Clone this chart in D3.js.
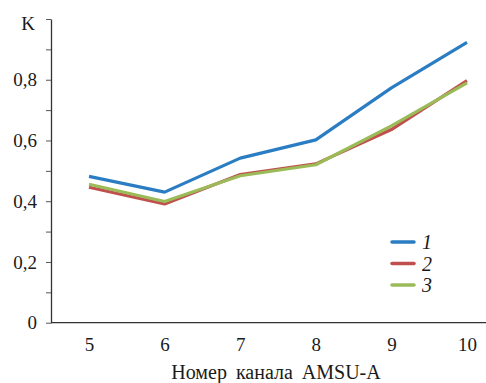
<!DOCTYPE html>
<html>
<head>
<meta charset="utf-8">
<script src="https://cdn.jsdelivr.net/npm/d3@7"></script>
<style>
  html, body { margin: 0; padding: 0; background: #fff; }
  svg text { font-family: "Liberation Serif", "Times New Roman", serif; }
</style>
</head>
<body>
<svg id="plot" width="486" height="383" font-family="Liberation Serif"></svg>
<script>
const channels = [5, 6, 7, 8, 9, 10];
const seriesNames = ["1", "2", "3"];
const series1 = [0.482, 0.430, 0.542, 0.602, 0.773, 0.923];
const series2 = [0.446, 0.391, 0.488, 0.523, 0.636, 0.797];
const series3 = [0.456, 0.399, 0.484, 0.520, 0.648, 0.790];
const yMajorTicks = [0, 0.2, 0.4, 0.6, 0.8];
const yMinorTicks = [0.1, 0.3, 0.5, 0.7, 0.9];
const colors = ["#2a7dc2", "#c0504d", "#9bbb59"];

const FONT = "Liberation Serif";
const margin = { top: 19, right: 0, bottom: 60, left: 51 };
const width = 486;

const svg = d3.select("#plot");

const x = d3.scalePoint()
  .domain(channels)
  .range([margin.left + 38, 467]);

const y = d3.scaleLinear()
  .domain([0, 1])
  .range([322.7, margin.top]);

// y axis: labelled major ticks, bare minor ticks
const yAxisG = svg.append("g")
  .attr("transform", `translate(${margin.left},0)`)
  .call(d3.axisLeft(y).tickValues(yMajorTicks.concat(yMinorTicks, [1]))
    .tickSize(5).tickPadding(9).tickSizeOuter(0)
    .tickFormat((d) => String(d).replace(".", ",")));
yAxisG.attr("font-family", FONT).attr("font-size", 19);
yAxisG.select(".domain").attr("stroke", "#333").attr("stroke-width", 1.3);
yAxisG.selectAll("line").attr("stroke", "#555");
yAxisG.selectAll("text").filter((d) => !yMajorTicks.includes(d)).remove();
yAxisG.selectAll("text").attr("fill", "#1a1a1a");

svg.append("text")
  .attr("x", 35)
  .attr("y", 30)
  .attr("text-anchor", "end")
  .attr("font-size", 19)
  .attr("fill", "#1a1a1a")
  .text("K");

// x axis baseline, no ticks
svg.append("line")
  .attr("x1", margin.left)
  .attr("x2", width)
  .attr("y1", y(0))
  .attr("y2", y(0))
  .attr("stroke", "#333")
  .attr("stroke-width", 1.3);

const xAxisG = svg.append("g")
  .attr("transform", `translate(0,${y(0)})`)
  .call(d3.axisBottom(x).tickSize(0).tickPadding(15));
xAxisG.attr("font-family", FONT).attr("font-size", 19);
xAxisG.select(".domain").remove();
xAxisG.selectAll("text").attr("fill", "#1a1a1a");

svg.append("text")
  .attr("x", 276)
  .attr("y", 379)
  .attr("text-anchor", "middle")
  .attr("font-size", 20)
  .attr("word-spacing", 4)
  .attr("fill", "#1a1a1a")
  .text("Номер канала AMSU-A");

const line = d3.line()
  .x((d, i) => x(channels[i]))
  .y((d) => y(d));

[series1, series2, series3].forEach((values, i) => {
  svg.append("path")
    .datum(values)
    .attr("fill", "none")
    .attr("stroke", colors[i])
    .attr("stroke-width", 3.2)
    .attr("stroke-linejoin", "round")
    .attr("d", line);
});

// legend
const legend = svg.append("g").attr("transform", "translate(392,242)");
seriesNames.forEach((name, i) => {
  const row = legend.append("g").attr("transform", `translate(0,${i * 21.5})`);
  row.append("line")
    .attr("x1", 0).attr("x2", 22)
    .attr("stroke", colors[i])
    .attr("stroke-width", 3.5)
    .attr("stroke-linecap", "round");
  row.append("text")
    .attr("x", 30)
    .attr("y", 7)
    .attr("font-size", 20)
    .attr("font-style", "italic")
    .attr("fill", "#1a1a1a")
    .text(name);
});
</script>
</body>
</html>
